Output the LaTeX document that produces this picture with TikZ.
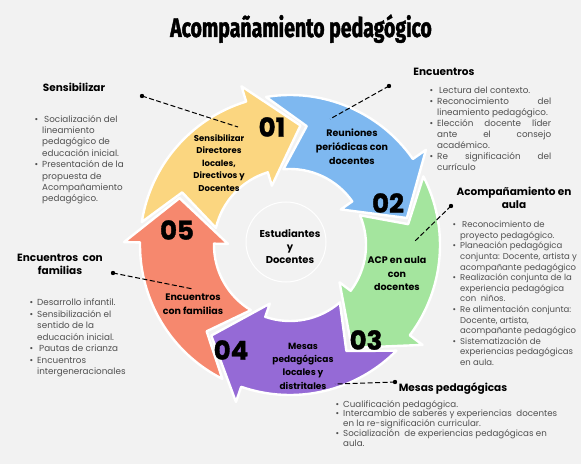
\documentclass[tikz,border=0pt]{standalone}
\usepackage{fontspec}
\setmainfont{Poppins}
\newfontfamily\titlefont[FakeStretch=0.72, BoldFeatures={FakeBold=1.6}]{Fira Sans}
\newfontfamily\numfont[BoldFeatures={FakeBold=1.4}]{Poppins}
\usetikzlibrary{calc, positioning}

\definecolor{cBack}{RGB}{242,242,242}
\definecolor{cYellow}{RGB}{251,214,128}
\definecolor{cBlue}{RGB}{126,184,240}
\definecolor{cGreen}{RGB}{164,229,158}
\definecolor{cPurple}{RGB}{149,106,214}
\definecolor{cSalmon}{RGB}{246,136,110}
\definecolor{cGrayTxt}{RGB}{80,80,80}

\newcommand{\blt}{\llap{\textbullet\hspace{4pt}}}

\tikzset{
    ringArrow/.style={draw=white, line width=2.4pt, line join=round},
    titleTxt/.style={font=\titlefont\bfseries\fontsize{27}{30}\selectfont, inner sep=0},
    headTxt/.style={font=\bfseries\fontsize{10.5}{13}\selectfont, align=center, inner sep=0},
    descTxt/.style 2 args={font=\fontsize{#1}{#2}\selectfont, text=cGrayTxt, align=left, inner sep=0, anchor=north west},
    arrowTxt/.style={font=\bfseries\fontsize{8.5}{12.5}\selectfont, align=center, inner sep=0},
    numTxt/.style={font=\numfont\bfseries\fontsize{26}{26}\selectfont, inner sep=0},
    leader/.style={line width=1pt, dash pattern=on 5pt off 2.5pt},
}

\begin{document}
\begin{tikzpicture}[x=1pt, y=1pt]
        \useasboundingbox (0,0) rectangle (581,464);
        \fill[cBack] (0,0) rectangle (581,464);
        \coordinate (cCenter) at (290,219);

        % ring of arrows
        \begin{scope}[shift={(cCenter)}]
        \foreach \col/\tip in {cYellow/85, cBlue/13, cGreen/-59, cPurple/-131, cSalmon/-203}
        {
            \pgfmathsetmacro{\bse}{\tip+22}
            \pgfmathsetmacro{\tl}{\tip+72}
            \filldraw[fill=\col, ringArrow] (\tl+14.2:150)
                arc[start angle=\tl+14.2, end angle=\bse, radius=150]
                -- (\bse:166) -- (\tip:120) -- (\bse:62) -- (\bse:76)
                arc[start angle=\bse, end angle=\tl+10, radius=76]
                -- (\tl-3:120) -- cycle;
        };
        \end{scope}
        \draw[white, line width=1pt] (286,222) circle (40);

        \node [titleTxt, anchor=base] (title) at (301,427) {Acompañamiento pedagógico};

        % texts in the ring
        \node [arrowTxt] (yellowTxt) at (219,301) {Sensibilizar\\Directores\\locales,\\Directivos y\\Docentes};
        \node [arrowTxt, font=\bfseries\fontsize{9.5}{14}\selectfont] (blueTxt) at (352,317) {Reuniones\\periódicas con\\docentes};
        \node [arrowTxt, font=\bfseries\fontsize{9.5}{13.5}\selectfont] (greenTxt) at (397,190) {ACP en aula\\con\\docentes};
        \node [arrowTxt, font=\bfseries\fontsize{9}{13.3}\selectfont] (purpleTxt) at (303,98) {Mesas\\pedagógicas\\locales y\\distritales};
        \node [arrowTxt, font=\bfseries\fontsize{9.5}{13.5}\selectfont] (salmonTxt) at (193,160) {Encuentros\\con familias};
        \node [arrowTxt, font=\bfseries\fontsize{10}{13}\selectfont] (centerTxt) at (290,217) {Estudiantes\\y\\Docentes};
        \foreach \n/\x/\y/\t in {numA/272/337/01, numB/388/261/02, numC/366/124/03, numD/231/114/04, numE/177/234/05}
        {
            \node [numTxt] (\n) at (\x,\y) {\t};
        };

        % headings
        \node [headTxt] (sensHead) at (74,377) {Sensibilizar};
        \node [headTxt] (encHead) at (444,392) {Encuentros};
        \node [headTxt] (acpHead) at (514,266) {Acompañamiento en\\aula};
        \node [headTxt] (famHead) at (60,199.5) {Encuentros\ \ con\\familias};
        \node [headTxt] (mesHead) at (453,75) {Mesas pedagógicas};

        % lists
        \node [descTxt={8.8}{11.4}] (sensList) at (42,349) {\blt\hspace{2pt}Socialización del\\lineamiento\\pedagógico de\\educación inicial.\\\blt Presentación de la\\propuesta de\\Acompañamiento\\pedagógico.};
        \node [descTxt={8.8}{10.9}] (encList) at (437,377) {\blt\hspace{2pt}Lectura del contexto.\\\blt\makebox[114pt][s]{Reconocimiento del}\\lineamiento pedagógico.\\\blt\makebox[114pt][s]{Elección docente líder}\\\makebox[114pt][s]{ante el consejo}\\académico.\\\blt\makebox[114pt][s]{Re significación del}\\currículo};
        \node [descTxt={8.5}{10.6}] (acpList) at (460,243) {\blt\hspace{2pt}Reconocimiento de\\proyecto pedagógico.\\\blt Planeación pedagógica\\conjunta: Docente, artista y\\acompañante pedagógico\\\blt Realización conjunta de la\\experiencia pedagógica\\con\ \ niños.\\\blt Re alimentación conjunta:\\Docente, artista,\\acompañante pedagógico\\\blt Sistematización de\\experiencias pedagógicas\\en aula.};
        \node [descTxt={8.8}{11.5}] (famList) at (37,165) {\blt Desarrollo infantil.\\\blt Sensibilización el\\sentido de la\\educación inicial.\\\blt\hspace{2pt}Pautas de crianza\\\blt Encuentros\\intergeneracionales};
        \node [descTxt={8.7}{9.8}] (mesList) at (343,64) {\blt Cualificación pedagógica.\\\blt Intercambio de saberes y experiencias\ \ docentes\\en la re-significación curricular.\\\blt Socialización\ \ de experiencias pedagógicas en\\aula.};

        % dashed leaders
        \coordinate (cSensDot) at (142,368);
        \coordinate (cSensEnd) at (238,337);
        \coordinate (cEncDot) at (389,378);
        \coordinate (cEncEnd) at (330,345);
        \coordinate (cAcpDot) at (451,258);
        \coordinate (cAcpEnd) at (415,223);
        \coordinate (cFamDot) at (113,191);
        \coordinate (cFamEnd) at (193,175);
        \coordinate (cMesDot) at (395,82);
        \coordinate (cMesEnd) at (335,80);
        \foreach \v in {Sens, Enc, Acp, Fam, Mes}
        {
            \draw[leader] (c\v Dot) -- (c\v End);
            \fill (c\v Dot) circle (2.2pt);
        };
\end{tikzpicture}
\end{document}
